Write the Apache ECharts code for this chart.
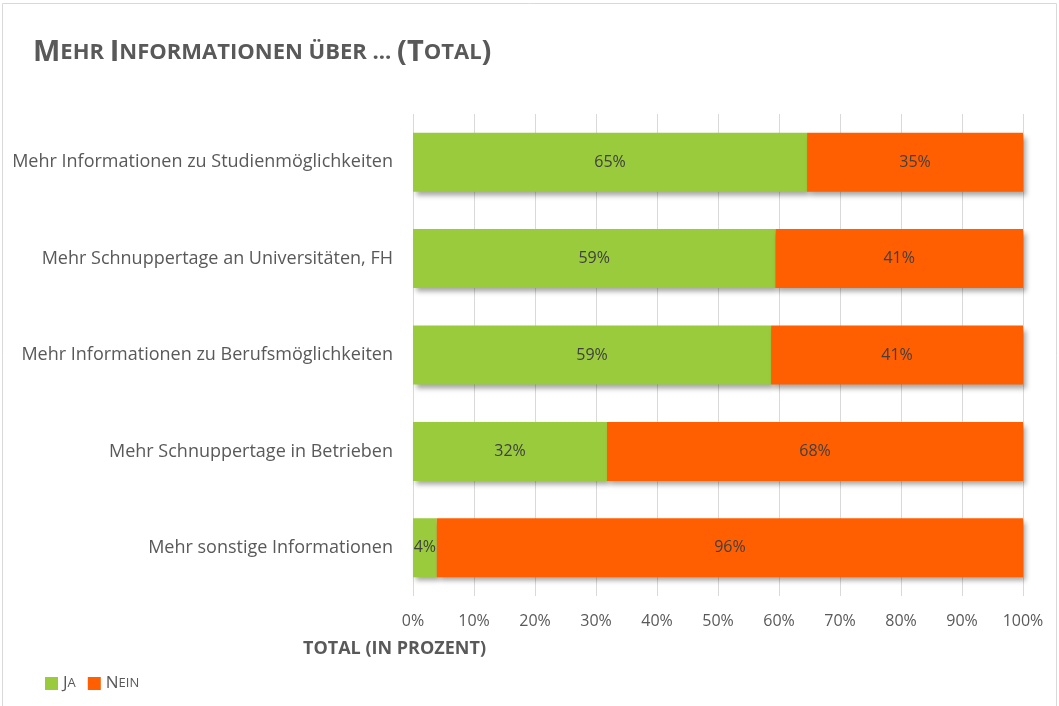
<!DOCTYPE html>
<html>
<head>
<meta charset="utf-8">
<script src="https://cdn.jsdelivr.net/npm/echarts@6/dist/echarts.min.js"></script>
<style>
  html, body { margin: 0; padding: 0; background: #fff; }
  #chart { width: 1059px; height: 706px; }
</style>
</head>
<body>
<div id="chart"></div>
<script>
// Kategorien von oben nach unten
const categories = [
  'Mehr Informationen zu Studienmöglichkeiten',
  'Mehr Schnuppertage an Universitäten, FH',
  'Mehr Informationen zu Berufsmöglichkeiten',
  'Mehr Schnuppertage in Betrieben',
  'Mehr sonstige Informationen'
];
const jaValues = [64.6, 59.4, 58.7, 31.8, 3.9];
const neinValues = [35.4, 40.6, 41.3, 68.2, 96.1];
const tickLabels = ['0%', '10%', '20%', '30%', '40%', '50%', '60%', '70%', '80%', '90%', '100%'];

const font = '"Open Sans", "DejaVu Sans", sans-serif';
const colors = ['#9ACB3C', '#FF5F00'];

const chart = echarts.init(document.getElementById('chart'));

const barShadow = {
  shadowColor: 'rgba(0,0,0,0.35)',
  shadowBlur: 5,
  shadowOffsetX: 3,
  shadowOffsetY: 4
};

function pctLabel(p) {
  return Math.round(p.value) + '%';
}

chart.setOption({
  animation: false,
  color: colors,
  textStyle: { fontFamily: font },
  title: {
    // Kapitälchen über rich text nachgebaut
    text: '{b|M}{s|EHR }{b|I}{s|NFORMATIONEN ÜBER ... }{b|(T}{s|OTAL}{b|)}',
    left: 28,
    top: 33,
    textStyle: {
      rich: {
        b: { fontFamily: font, fontSize: 29, fontWeight: 'bold', color: '#595959' },
        s: { fontFamily: font, fontSize: 22, fontWeight: 'bold', color: '#595959' }
      }
    }
  },
  legend: {
    left: 40,
    top: 670,
    itemWidth: 13,
    itemHeight: 13,
    itemGap: 12,
    icon: 'rect',
    formatter: function (name) {
      return '{b|' + name.charAt(0) + '}{s|' + name.slice(1).toUpperCase() + '}';
    },
    textStyle: {
      rich: {
        b: { fontFamily: font, fontSize: 17, color: '#595959' },
        s: { fontFamily: font, fontSize: 13, color: '#595959' }
      }
    }
  },
  grid: {
    left: 413,
    right: 36,
    top: 114,
    bottom: 110
  },
  xAxis: {
    type: 'value',
    min: 0,
    max: 100,
    interval: 10,
    axisLine: { show: false },
    axisTick: { show: false },
    splitLine: { lineStyle: { color: '#d9d9d9', width: 1 } },
    axisLabel: {
      color: '#595959',
      fontSize: 16,
      margin: 17,
      formatter: function (v) { return tickLabels[v / 10]; }
    }
  },
  yAxis: {
    type: 'category',
    inverse: true,
    data: categories,
    axisLine: { show: false },
    axisTick: { show: false },
    axisLabel: { color: '#595959', fontSize: 18, margin: 20 }
  },
  graphic: [
    {
      type: 'rect',
      shape: { x: 2.5, y: 3.5, width: 1054, height: 740 },
      style: { fill: 'none', stroke: '#d9d9d9', lineWidth: 1 },
      silent: true
    },
    {
      type: 'text',
      left: 303,
      top: 640,
      style: {
        text: 'TOTAL (IN PROZENT)',
        font: 'bold 18px ' + font,
        fill: '#595959'
      }
    }
  ],
  series: [
    {
      name: 'Ja',
      type: 'bar',
      stack: 'total',
      barWidth: 59,
      data: jaValues,
      itemStyle: barShadow,
      label: { show: true, position: 'inside', color: '#404040', fontSize: 16, formatter: pctLabel }
    },
    {
      name: 'Nein',
      type: 'bar',
      stack: 'total',
      barWidth: 59,
      data: neinValues,
      itemStyle: barShadow,
      label: { show: true, position: 'inside', color: '#404040', fontSize: 16, formatter: pctLabel }
    }
  ]
});
</script>
</body>
</html>
